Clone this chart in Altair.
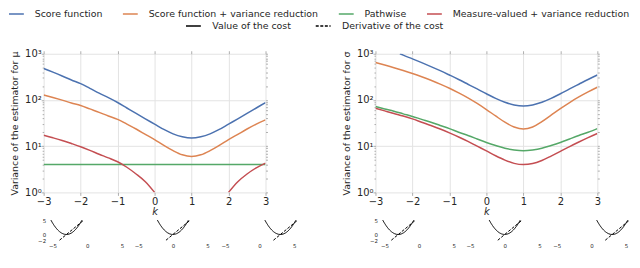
import altair as alt
import pandas as pd

# ---------------- data ----------------
K = [-3.0, -2.75, -2.5, -2.25, -2.0, -1.75, -1.5, -1.25, -1.0, -0.75, -0.5, -0.25,
     0.0, 0.25, 0.5, 0.75, 1.0, 1.25, 1.5, 1.75, 2.0, 2.25, 2.5, 2.75, 3.0]

# left panel: estimator for mu
MU_SCORE = [480, 400, 330, 270, 225, 178, 140, 112, 88, 67, 51, 39, 30,
            23, 18.5, 16, 15, 16, 18.5, 23, 30, 39, 51, 67, 88]
MU_SCORE_VR = [128, 113, 99, 86, 76, 64, 54, 45, 38, 30, 23.5, 18, 13.8,
               10.4, 8.0, 6.5, 6.0, 6.5, 8.0, 10.4, 13.8, 18, 23.5, 30, 37]
MU_PATHWISE = [4.0, 4.0, 4.0, 4.0, 4.0, 4.0, 4.0, 4.0, 4.0, 4.0, 4.0, 4.0, 4.0,
               4.0, 4.0, 4.0, 4.0, 4.0, 4.0, 4.0, 4.0, 4.0, 4.0, 4.0, 4.0]
MU_MV_K1 = [-3.0, -2.75, -2.5, -2.25, -2.0, -1.75, -1.5, -1.25, -1.0, -0.75, -0.5, -0.25, 0.0]
MU_MV_1 = [17.2, 15.2, 13.3, 11.4, 9.7, 8.1, 6.7, 5.6, 4.6, 3.5, 2.5, 1.7, 1.0]
MU_MV_K2 = [2.0, 2.25, 2.5, 2.75, 3.0]
MU_MV_2 = [1.0, 1.7, 2.5, 3.4, 4.3]

# right panel: estimator for sigma
SIG_SCORE_K = [-2.34, -2.25, -2.0, -1.75, -1.5, -1.25, -1.0, -0.75, -0.5, -0.25, 0.0,
               0.25, 0.5, 0.75, 1.0, 1.25, 1.5, 1.75, 2.0, 2.25, 2.5, 2.75, 3.0]
SIG_SCORE = [1000, 930, 775, 640, 527, 430, 346, 277, 219, 173, 136,
             108, 89, 78, 74, 78, 89, 108, 136, 173, 219, 277, 346]
SIG_SCORE_VR = [645, 569, 499, 433, 373, 317, 266, 220, 179, 142, 111, 84, 62,
                45, 33, 26, 23.5, 26, 34, 47, 65, 88, 116, 149, 188]
SIG_PATHWISE = [72, 64, 57, 50, 44, 38, 33, 28, 24, 20, 17, 14.3, 12,
                10.3, 9, 8.3, 8, 8.3, 9, 10.3, 12, 14.3, 17, 20, 24]
SIG_MV = [66, 58, 51, 45, 39, 33, 28, 23.5, 19.4, 15.8, 12.7, 10, 7.9,
          6.2, 5.0, 4.25, 4.0, 4.2, 4.9, 6.1, 7.7, 9.8, 12.3, 15.3, 18.8]

SERIES = ["Score function", "Score function + variance reduction",
          "Pathwise", "Measure-valued + variance reduction"]
COLORS = ["#4C72B0", "#DD8452", "#55A868", "#C44E52"]

# inset curves: cost and its derivative, for k in {-3, 0, 3}
INSET_K = [-3.0, 0.0, 3.0]
U = [-2.236, -2.0, -1.75, -1.5, -1.25, -1.0, -0.75, -0.5, -0.25, 0.0,
     0.25, 0.5, 0.75, 1.0, 1.25, 1.5, 1.75, 2.0, 2.236]
COST = [5.0, 4.0, 3.06, 2.25, 1.56, 1.0, 0.56, 0.25, 0.06, 0.0,
        0.06, 0.25, 0.56, 1.0, 1.56, 2.25, 3.06, 4.0, 5.0]
DU = [-1.0, 2.5]
DERIV = [-2.0, 5.0]
CURVES = ["Value of the cost", "Derivative of the cost"]

XTICKS = [-3, -2, -1, 0, 1, 2, 3]
YTICKS = [1, 10, 100, 1000]
YMINOR = [2, 3, 4, 5, 6, 7, 8, 9, 20, 30, 40, 50, 60, 70, 80, 90,
          200, 300, 400, 500, 600, 700, 800, 900]
INSET_XTICKS = [-5, 0, 5]
INSET_YTICKS = [-2, 0, 5]

# ---------------- tables ----------------
def rows(ks, vs, name, seg):
    return [{"k": a, "v": b, "series": name, "seg": seg} for a, b in zip(ks, vs)]

mu_rows = (rows(K, MU_SCORE, SERIES[0], "a") + rows(K, MU_SCORE_VR, SERIES[1], "a")
           + rows(K, MU_PATHWISE, SERIES[2], "a") + rows(MU_MV_K1, MU_MV_1, SERIES[3], "a")
           + rows(MU_MV_K2, MU_MV_2, SERIES[3], "b"))
sig_rows = (rows(SIG_SCORE_K, SIG_SCORE, SERIES[0], "a") + rows(K, SIG_SCORE_VR, SERIES[1], "a")
            + rows(K, SIG_PATHWISE, SERIES[2], "a") + rows(K, SIG_MV, SERIES[3], "a"))
df_mu = pd.DataFrame(mu_rows)
df_sig = pd.DataFrame(sig_rows)

inset_rows = []
for kc in INSET_K:
    for u, c in zip(U, COST):
        inset_rows.append({"kc": kc, "x": kc + u, "y": c, "curve": CURVES[0]})
    for u, d in zip(DU, DERIV):
        inset_rows.append({"kc": kc, "x": kc + u, "y": d, "curve": CURVES[1]})
df_in = pd.DataFrame(inset_rows)

INSET_CENTERS = [44, 130.5, 218]
HALF = 42

TXT = "#262626"
GRID = "#e3e3e3"
TICK = "#9a9a9a"

color_legend = alt.Legend(
    orient="none", legendX=-36, legendY=-45, direction="horizontal", columns=4,
    symbolType="stroke", symbolSize=225, symbolStrokeWidth=1.5, labelFontSize=9.5,
    labelColor=TXT, labelOffset=10, columnPadding=19, title=None, labelLimit=400,
    padding=0, rowPadding=0, clipHeight=10)
dash_legend = alt.Legend(
    orient="none", legendX=142.7, legendY=-33, direction="horizontal", columns=2,
    symbolType="stroke", symbolSize=225, symbolStrokeWidth=1.5, symbolStrokeColor="black",
    labelFontSize=9.5, labelColor=TXT, labelOffset=10.5, columnPadding=23, title=None,
    labelLimit=400, padding=0, clipHeight=10)

LABEL_EXPR = ("datum.value == 1 ? '10⁰' : datum.value == 10 ? '10¹' : "
              "datum.value == 100 ? '10²' : '10³'")

XSCALE = dict(domain=[-3, 3], nice=False, zero=False)
YSCALE = dict(type="log", domain=[1, 1000], nice=False)


def tick_axis(orient, values, size):
    return alt.Axis(orient=orient, values=values, labels=False, title=None, grid=False,
                    domain=False, tickSize=size, tickColor=TICK, tickWidth=0.8)


def panel(df, ytitle):
    main = alt.Chart(df).mark_line(strokeWidth=1.5, interpolate="monotone", clip=True).encode(
        x=alt.X("k:Q", scale=alt.Scale(**XSCALE),
                axis=alt.Axis(values=XTICKS, title="k", orient="bottom", grid=True,
                              gridColor=GRID, domain=False, tickSize=3, tickColor=TICK,
                              tickWidth=0.8, labelFontSize=10, labelColor=TXT,
                              labelPadding=1.5, labelFlush=False, titleFontSize=10,
                              titleFontStyle="italic", titleFontWeight="normal",
                              titleColor=TXT, titlePadding=0)),
        y=alt.Y("v:Q", scale=alt.Scale(**YSCALE),
                axis=alt.Axis(values=YTICKS, labelExpr=LABEL_EXPR, title=ytitle, orient="left",
                              grid=True, gridColor=GRID, domain=False, tickSize=2.5,
                              tickColor=TICK, tickWidth=0.8, labelFontSize=10, labelColor=TXT,
                              labelPadding=0, titleFontSize=9.5, titleFontWeight="normal",
                              titleColor=TXT, titlePadding=5, labelOverlap=False)),
        color=alt.Color("series:N", scale=alt.Scale(domain=SERIES, range=COLORS),
                        legend=color_legend),
        detail="seg:N",
    )
    # invisible copies carrying the small tick marks on the other sides
    ticks_a = alt.Chart(df).mark_line(opacity=0).encode(
        x=alt.X("k:Q", scale=alt.Scale(**XSCALE), axis=tick_axis("top", XTICKS, 3)),
        y=alt.Y("v:Q", scale=alt.Scale(**YSCALE), axis=tick_axis("right", YTICKS + YMINOR, 2)),
        detail="seg:N", color=alt.value("white"),
    )
    ticks_b = alt.Chart(df).mark_line(opacity=0).encode(
        x=alt.X("k:Q", scale=alt.Scale(**XSCALE), axis=None),
        y=alt.Y("v:Q", scale=alt.Scale(**YSCALE), axis=tick_axis("left", YMINOR, 1.5)),
        detail="seg:N", color=alt.value("white"),
    )
    layers = [main, ticks_a, ticks_b]
    for i, kc in enumerate(INSET_K):
        c = INSET_CENTERS[i]
        sub = df_in[df_in["kc"] == kc]
        yax = alt.Axis(values=INSET_YTICKS, orient="left", title=None, grid=False,
                       domain=False, ticks=False, labelFontSize=5.5, labelColor=TXT,
                       labelPadding=1, offset=-3, labelOverlap=False) if i == 0 else None
        layers.append(
            alt.Chart(sub).mark_line(strokeWidth=1, color="black").encode(
                x=alt.X("x:Q", scale=alt.Scale(domain=[-6, 6], range=[c - HALF, c + HALF],
                                               nice=False, zero=False),
                        axis=alt.Axis(values=INSET_XTICKS, orient="bottom", title=None,
                                      grid=False, domain=False, ticks=False,
                                      labelFontSize=5.5, labelColor=TXT, labelPadding=0,
                                      offset=52, labelOverlap=False, labelFlush=False)),
                y=alt.Y("y:Q", scale=alt.Scale(domain=[-2, 5], range=[188.3, 168],
                                               nice=False, zero=False), axis=yax),
                strokeDash=alt.StrokeDash("curve:N",
                                          scale=alt.Scale(domain=CURVES, range=[[1, 0], [3, 1.6]]),
                                          legend=dash_legend),
            )
        )
    return alt.layer(*layers).resolve_scale(x="independent", y="independent").properties(
        width=224, height=140)


left = panel(df_mu, "Variance of the estimator for μ")
right = panel(df_sig, "Variance of the estimator for σ")

chart = alt.hconcat(left, right, spacing=111, bounds="flush",
                    padding={"left": 0, "top": 0, "right": 0, "bottom": 0}).configure(
    font="DejaVu Sans").configure_view(stroke=None)

chart.save("out.html", embed_options={"renderer": "svg", "actions": False})
